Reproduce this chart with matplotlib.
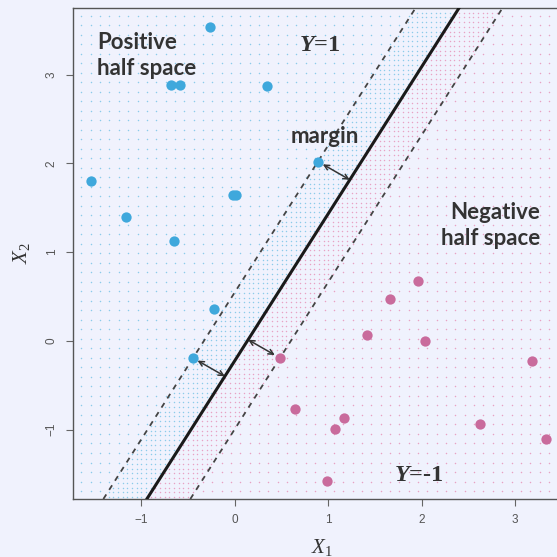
import numpy as np
import matplotlib
matplotlib.use('Agg')
import matplotlib.pyplot as plt

plt.rcParams['mathtext.fontset'] = 'custom'
plt.rcParams['mathtext.it'] = 'Liberation Serif:italic'
plt.rcParams['mathtext.rm'] = 'Liberation Serif'
plt.rcParams['mathtext.bfit'] = 'Liberation Serif:italic:bold'

# data
pos_x1 = [-0.26, -0.68, -0.59, 0.35, -1.54, -1.16, -0.65, -0.02, 0.01, 0.89, -0.22, -0.45]
pos_x2 = [3.54, 2.88, 2.88, 2.87, 1.80, 1.39, 1.13, 1.64, 1.64, 2.02, 0.36, -0.19]
neg_x1 = [0.48, 1.96, 1.66, 1.41, 2.03, 3.18, 0.64, 1.17, 1.07, 2.62, 3.33, 0.99]
neg_x2 = [-0.19, 0.68, 0.47, 0.07, 0.00, -0.23, -0.77, -0.87, -0.99, -0.94, -1.10, -1.58]

slope = 1.656
intercept = -0.223
margin = 0.77          # vertical offset of the dashed lines
arrow_pts = [(0.89, 2.02), (-0.45, -0.19), (0.48, -0.19)]
ticks = [-1, 0, 1, 2, 3]

bg = '#f0f2fd'
blue = '#3fa8dc'
pink = '#c96b9c'
dark = '#333333'
dot_blue = '#8ccbea'
dot_pink = '#e8a2c4'

fig = plt.figure(figsize=(5.57, 5.57), dpi=100, facecolor=bg)
ax = fig.add_axes([73/557, 58/557, 498/557, 491/557], facecolor=bg)
ax.set_xlim(-1.73, 3.596)
ax.set_ylim(-1.78, 3.749)

# background mesh of dots, coloured by side of the hyperplane
gx, gy = np.meshgrid(np.arange(-1.64, 3.6, 0.1), np.arange(-1.69, 3.75, 0.107))
gx, gy = gx.ravel(), gy.ravel()
f = gy - (slope * gx + intercept)
out = np.abs(f) > margin
ax.scatter(gx[out & (f > 0)], gy[out & (f > 0)], s=1.2, c=dot_blue, lw=0, zorder=1)
ax.scatter(gx[out & (f < 0)], gy[out & (f < 0)], s=1.2, c=dot_pink, lw=0, zorder=1)

# finer mesh inside the margin band
hx, hy = np.meshgrid(np.arange(-1.7, 3.6, 0.05), np.arange(-1.76, 3.75, 0.0535))
hx, hy = hx.ravel(), hy.ravel()
h = hy - (slope * hx + intercept)
band = np.abs(h) <= margin
ax.scatter(hx[band & (h > 0)], hy[band & (h > 0)], s=1.1, c=dot_blue, lw=0, zorder=1)
ax.scatter(hx[band & (h < 0)], hy[band & (h < 0)], s=1.1, c=dot_pink, lw=0, zorder=1)

# hyperplane and margins
ax.axline((0, intercept), slope=slope, color='#1a1a1a', lw=2.2, zorder=3)
ax.axline((0, intercept + margin), slope=slope, color='#444444', lw=1.3, dashes=(3, 3), zorder=3)
ax.axline((0, intercept - margin), slope=slope, color='#444444', lw=1.3, dashes=(3, 3), zorder=3)

# margin arrows to the foot of the perpendicular
for px, py in arrow_pts:
    d = (slope * px - py + intercept) / (slope**2 + 1)
    fx, fy = px - slope * d, py + d
    ax.annotate('', xy=(fx, fy), xytext=(px, py),
                arrowprops=dict(arrowstyle='<->', color=dark, lw=1.1,
                                shrinkA=4, shrinkB=0, mutation_scale=9),
                zorder=4)

ax.scatter(pos_x1, pos_x2, s=55, c=blue, lw=0, zorder=5)
ax.scatter(neg_x1, neg_x2, s=55, c=pink, lw=0, zorder=5)

tf = dict(family='Lato', weight='bold', color=dark, fontsize=16, linespacing=1.3)
ax.text(-1.47, 3.48, 'Positive\nhalf space', va='top', ha='left', **tf)
ax.text(3.27, 1.56, 'Negative\nhalf space', va='top', ha='right', **tf)
ax.text(0.6, 2.23, 'margin', va='baseline', ha='left', **tf)
ax.text(0.69, 3.26, r'$\mathbfit{Y}$=1', family='Liberation Serif', weight='bold',
        color=dark, fontsize=17.5, va='baseline')
ax.text(1.70, -1.58, r'$\mathbfit{Y}$=-1', family='Liberation Serif', weight='bold',
        color=dark, fontsize=17.5, va='baseline')

for s in ['left', 'bottom', 'top']:
    ax.spines[s].set_color('#555555')
    ax.spines[s].set_linewidth(1)
ax.spines['right'].set_visible(False)

ax.set_xticks(ticks)
ax.set_yticks(ticks)
ax.set_xticklabels([str(t).replace('-', '\u2212') for t in ticks], family='Liberation Sans')
ax.set_yticklabels([str(t).replace('-', '\u2212') for t in ticks], family='Liberation Sans',
                   rotation=90, va='center')
ax.tick_params(direction='out', length=5, width=0.8, color='#666666',
               labelsize=8.5, labelcolor='#555555', pad=6)

ax.set_xlabel(r'$X_1$', fontsize=15, color=dark, labelpad=8)
ax.set_ylabel(r'$X_2$', fontsize=15, color=dark, labelpad=10)

fig.savefig('out.png', dpi=100, facecolor=bg)
